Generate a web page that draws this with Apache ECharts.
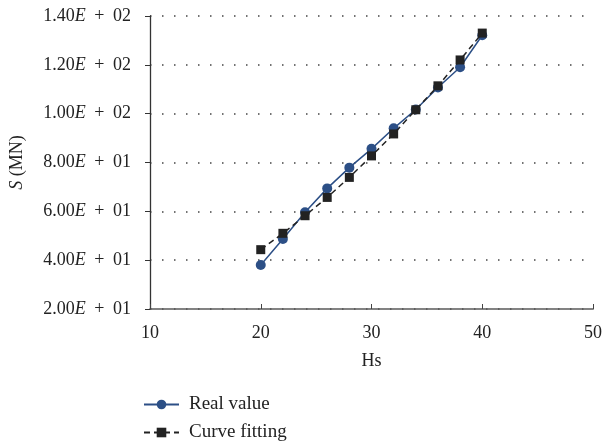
<!DOCTYPE html>
<html>
<head>
<meta charset="utf-8">
<script src="https://cdn.jsdelivr.net/npm/echarts@6/dist/echarts.min.js"></script>
<style>html,body{margin:0;padding:0;background:#fff;}#c{width:605px;height:444px;}</style>
</head>
<body>
<div id="c"></div>
<script>
const hs = [20, 22, 24, 26, 28, 30, 32, 34, 36, 38, 40];
const realValue = [38.0, 48.7, 59.6, 69.4, 77.9, 85.6, 94.0, 101.7, 110.7, 119.0, 132.1];
const curveFitting = [44.3, 51.0, 58.2, 65.7, 73.9, 82.7, 91.7, 101.6, 111.4, 122.0, 133.0];
const yTicks = [20, 40, 60, 80, 100, 120, 140];
const yTickLabels = ['2.00E + 01', '4.00E + 01', '6.00E + 01', '8.00E + 01', '1.00E + 02', '1.20E + 02', '1.40E + 02'];
const xTickLabels = ['10', '20', '30', '40', '50'];

const FONT = 'Liberation Serif';
const chart = echarts.init(document.getElementById('c'));
chart.setOption({
  animation: false,
  backgroundColor: '#fff',
  grid: { left: 146, right: 11, top: 16, bottom: 135, containLabel: false },
  legend: {
    orient: 'vertical', left: 143, top: 395, width: 300, height: 48, padding: 0,
    itemWidth: 35, itemHeight: 12, itemGap: 9,
    textStyle: { fontFamily: FONT, fontSize: 19, color: '#222', lineHeight: 18, padding: [0, 0, 0, 5] },
    data: ['Real value', 'Curve fitting']
  },
  xAxis: {
    type: 'value', min: 10, max: 50, interval: 10,
    name: 'Hs', nameLocation: 'middle', nameGap: 43,
    nameTextStyle: { fontFamily: FONT, fontSize: 18, color: '#222' },
    axisLine: { lineStyle: { color: '#5a5a5a', width: 1.7 } },
    axisTick: { show: true, inside: true, length: 5, lineStyle: { color: '#444', width: 1 } },
    axisLabel: { fontFamily: FONT, fontSize: 18, color: '#222', margin: 15,
      formatter: v => xTickLabels[xTickLabels.indexOf(String(v))] },
    splitLine: { show: false }
  },
  yAxis: {
    type: 'value', min: 20, max: 140, interval: 20,
    name: '{i|S} (MN)', nameLocation: 'middle', nameGap: 124, nameRotate: 90,
    nameTextStyle: { fontFamily: FONT, fontSize: 18, color: '#222',
      rich: { i: { fontFamily: FONT, fontSize: 18, fontStyle: 'italic', color: '#222' } } },
    axisLine: { show: true, lineStyle: { color: '#333', width: 1.3 } },
    axisTick: { show: true, inside: false, length: 5, lineStyle: { color: '#333', width: 1 } },
    axisLabel: {
      margin: 19,
      formatter: v => {
        const s = yTickLabels[yTicks.indexOf(v)];
        const parts = s.split('E');
        return '{n|' + parts[0] + '}{i|E}{n|' + parts[1].replace('+', '}{p|+}{n|') + '}';
      },
      rich: {
        n: { fontFamily: FONT, fontSize: 18, color: '#222' },
        i: { fontFamily: FONT, fontSize: 18, fontStyle: 'italic', color: '#222' },
        p: { fontFamily: FONT, fontSize: 18, color: '#222', padding: [0, 4] }
      }
    },
    splitLine: { show: true, lineStyle: { color: '#444', width: 1.5, type: [1.5, 10.5] } }
  },
  series: [
    {
      name: 'Real value', type: 'line', data: hs.map((x, i) => [x, realValue[i]]),
      symbol: 'circle', symbolSize: 10,
      itemStyle: { color: '#2c4f86' },
      lineStyle: { color: '#2c4f86', width: 1.5 }, z: 2
    },
    {
      name: 'Curve fitting', type: 'line', data: hs.map((x, i) => [x, curveFitting[i]]),
      symbol: 'rect', symbolSize: 9,
      itemStyle: { color: '#222' },
      lineStyle: { color: '#222', width: 1.5, type: [6, 4] }, z: 3
    }
  ]
});
</script>
</body>
</html>
